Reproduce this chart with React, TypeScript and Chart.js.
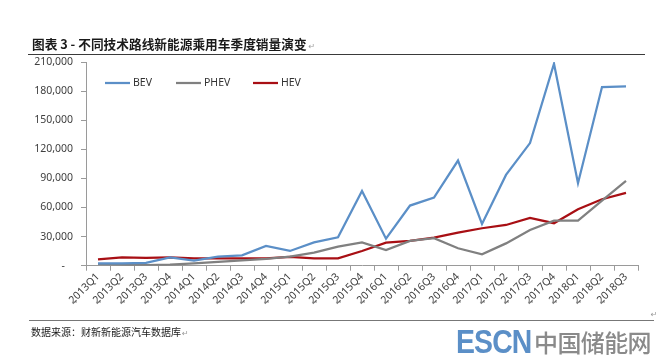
import React, { useEffect, useRef } from 'react';
import { Chart, registerables } from 'chart.js';

Chart.register(...registerables);

const categories = [
  '2013Q1', '2013Q2', '2013Q3', '2013Q4',
  '2014Q1', '2014Q2', '2014Q3', '2014Q4',
  '2015Q1', '2015Q2', '2015Q3', '2015Q4',
  '2016Q1', '2016Q2', '2016Q3', '2016Q4',
  '2017Q1', '2017Q2', '2017Q3', '2017Q4',
  '2018Q1', '2018Q2', '2018Q3',
];

const bevValues = [2500, 2500, 3000, 8600, 5200, 9300, 10700, 20300, 15200, 24100, 29300, 77100, 27900, 62000, 70200, 108400, 43000, 93600, 126400, 208200, 85000, 184200, 184800];
const phevValues = [1500, 1000, 500, 1000, 2500, 4000, 5500, 7000, 9300, 13400, 19600, 24100, 16200, 25500, 28300, 18000, 11800, 23000, 36900, 46500, 46500, 67000, 87400];
const hevValues = [6600, 8700, 8000, 8600, 7600, 7600, 7600, 7600, 9000, 7600, 7600, 15200, 23700, 25500, 28900, 34000, 38600, 42000, 49200, 43800, 58200, 68500, 75000];

const seriesLabels = ['BEV', 'PHEV', 'HEV'];
const seriesColors = ['#5b8fc7', '#808080', '#a80f14'];

const yMin = 0;
const yMax = 210000;
const yStep = 30000;

const titleText = '图表 3 - 不同技术路线新能源乘用车季度销量演变';
const sourceText = '数据来源：财新新能源汽车数据库';

const legendPlugin = {
  id: 'insideLegend',
  afterDraw(chart: any) {
    const ctx = chart.ctx;
    const xs = [105, 176, 253];
    const y = 83;
    chart.data.datasets.forEach((ds: any, i: number) => {
      const x = xs[i];
      ctx.save();
      ctx.strokeStyle = ds.borderColor;
      ctx.lineWidth = 2.25;
      ctx.beginPath();
      ctx.moveTo(x, y);
      ctx.lineTo(x + 25, y);
      ctx.stroke();
      ctx.fillStyle = '#333333';
      ctx.font = '10.5px "Noto Sans"';
      ctx.textBaseline = 'middle';
      ctx.textAlign = 'left';
      ctx.fillText(ds.label, x + 28, y + 0.5);
      ctx.restore();
    });
  },
};

const markPlugin = {
  id: 'paraMarks',
  afterDraw(chart: any) {
    const ctx = chart.ctx;
    const xs = chart.scales.x;
    ctx.save();
    ctx.fillStyle = '#9a9a9a';
    ctx.font = '8px "DejaVu Sans"';
    ctx.textAlign = 'center';
    ctx.textBaseline = 'middle';
    chart.data.labels.forEach((_: any, i: number) => {
      ctx.fillText('\u21b5', xs.getPixelForValue(i) - 23, 303);
    });
    ctx.fillText('\u21b5', 654, 315);
    ctx.restore();
  },
};

export default function App() {
  const ref = useRef<HTMLCanvasElement | null>(null);

  useEffect(() => {
    if (!ref.current) return;
    const chart = new Chart(ref.current, {
      type: 'line',
      data: {
        labels: categories,
        datasets: [bevValues, phevValues, hevValues].map((vals, i) => ({
          label: seriesLabels[i],
          data: vals,
          borderColor: seriesColors[i],
          backgroundColor: seriesColors[i],
          borderWidth: 2.25,
          pointRadius: 0,
          tension: 0,
          fill: false,
        })),
      },
      options: {
        animation: false,
        responsive: false,
        maintainAspectRatio: false,
        layout: { padding: { left: 0, top: 62, right: 26, bottom: 0 } },
        plugins: {
          legend: { display: false },
          tooltip: { enabled: false },
          title: { display: false },
        },
        scales: {
          x: {
            offset: true,
            grid: {
              offset: true,
              drawOnChartArea: false,
              drawTicks: true,
              tickLength: 5,
              color: '#9a9a9a',
            },
            border: { display: true, color: '#9a9a9a', width: 1 },
            ticks: {
              autoSkip: false,
              minRotation: 45,
              maxRotation: 45,
              padding: 0,
              color: '#404040',
              font: { family: 'Noto Sans', size: 10.5 },
            },
            afterFit(scale: any) {
              scale.height = 93.3;
            },
          },
          y: {
            min: yMin,
            max: yMax,
            grid: {
              drawOnChartArea: false,
              drawTicks: true,
              tickLength: 5,
              color: '#9a9a9a',
            },
            border: { display: true, color: '#9a9a9a', width: 1 },
            ticks: {
              stepSize: yStep,
              padding: 8,
              color: '#404040',
              font: { family: 'Noto Sans', size: 10.5 },
              callback: (v: any) => (Number(v) === 0 ? '-   ' : Number(v).toLocaleString('en-US')),
            },
            afterFit(scale: any) {
              scale.width = 86;
            },
          },
        },
      },
      plugins: [legendPlugin, markPlugin],
    });
    return () => chart.destroy();
  }, []);

  return (
    <div style={{ position: 'absolute', left: 0, top: 0, width: 664, height: 359, background: '#ffffff', overflow: 'hidden' }}>
      <canvas ref={ref} width={664} height={359} style={{ position: 'absolute', left: 0, top: 0, width: 664, height: 359 }} />
      <div style={{ position: 'absolute', left: 32, top: 35, fontFamily: '"Noto Sans CJK SC"', fontWeight: 700, fontSize: 12.7, color: '#1a1a1a', whiteSpace: 'nowrap', lineHeight: '18px' }}>
        {titleText}
        <span style={{ fontFamily: '"DejaVu Sans"', fontWeight: 400, fontSize: 8, color: '#9a9a9a', marginLeft: 2 }}>{'\u21b5'}</span>
      </div>
      <div style={{ position: 'absolute', left: 28, top: 54, width: 617, height: 1, background: '#3a3a3a' }} />
      <div style={{ position: 'absolute', left: 29, top: 320, width: 625, height: 1, background: '#777777' }} />
      <div style={{ position: 'absolute', left: 31, top: 325, fontFamily: '"Noto Sans CJK SC"', fontSize: 10, color: '#1a1a1a', whiteSpace: 'nowrap', lineHeight: '14px' }}>
        {sourceText}
        <span style={{ fontFamily: '"DejaVu Sans"', fontSize: 8, color: '#9a9a9a', marginLeft: 1 }}>{'\u21b5'}</span>
      </div>
      <div style={{ position: 'absolute', left: 456, top: 326, whiteSpace: 'nowrap', lineHeight: '32px', height: 32 }}>
        <span style={{ display: 'inline-block', fontFamily: '"Liberation Sans"', fontWeight: 700, fontSize: 33, color: '#5b8fc7', transform: 'scaleX(0.86)', transformOrigin: 'left center', width: 78, letterSpacing: -1 }}>ESCN</span>
        <span style={{ display: 'inline-block', fontFamily: '"Noto Sans CJK SC"', fontWeight: 500, fontSize: 24, color: '#8a8a8a', letterSpacing: -0.6, verticalAlign: 'top' }}>中国储能网</span>
      </div>
    </div>
  );
}
